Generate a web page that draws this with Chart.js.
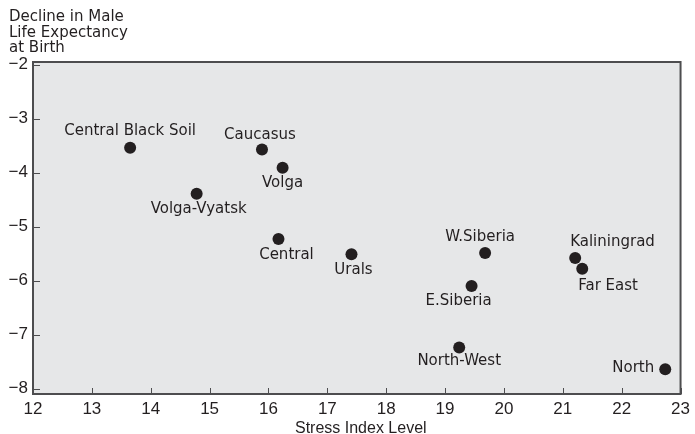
<!DOCTYPE html>
<html>
<head>
<meta charset="utf-8">
<script src="https://cdn.jsdelivr.net/npm/chart.js@4.4.1/dist/chart.umd.min.js"></script>
<style>
  html, body { margin: 0; padding: 0; background: #ffffff; }
  #wrap { width: 695px; height: 434px; position: relative; }
</style>
</head>
<body>
<div id="wrap"><canvas id="c" width="695" height="434"></canvas></div>
<script>
// ---- Data ----
const regions = ['Central Black Soil', 'Caucasus', 'Volga', 'Volga-Vyatsk', 'Central', 'Urals',
                 'W.Siberia', 'E.Siberia', 'Kaliningrad', 'Far East', 'North-West', 'North'];
const stressIndex = [13.65, 15.89, 16.24, 14.78, 16.17, 17.41, 19.68, 19.45, 21.21, 21.33, 19.24, 22.74];
const lifeExpDecline = [-3.54, -3.57, -3.91, -4.39, -5.23, -5.51, -5.49, -6.10, -5.58, -5.78, -7.24, -7.64];
const xTicks = [12, 13, 14, 15, 16, 17, 18, 19, 20, 21, 22, 23];
const yTicks = [-8, -7, -6, -5, -4, -3, -2];
const yTitleLines = ['Decline in Male', 'Life Expectancy', 'at Birth'];
const xTitle = 'Stress Index Level';

// ---- Label placement (style) ----
const labelPlace = {
  'Central Black Soil': { dx: 0, dy: -17, align: 'center' },
  'Caucasus':           { dx: -2, dy: -14, align: 'center' },
  'Volga':              { dx: 0, dy: 15, align: 'center' },
  'Volga-Vyatsk':       { dx: 2, dy: 15, align: 'center' },
  'Central':            { dx: 8, dy: 16, align: 'center' },
  'Urals':              { dx: 2, dy: 16, align: 'center' },
  'W.Siberia':          { dx: -5, dy: -16, align: 'center' },
  'E.Siberia':          { dx: -13, dy: 15, align: 'center' },
  'Kaliningrad':        { dx: -5, dy: -16, align: 'left' },
  'Far East':           { dx: -4, dy: 17, align: 'left' },
  'North-West':         { dx: 0, dy: 14, align: 'center' },
  'North':              { dx: -11, dy: -1, align: 'right' }
};

const INK = '#231f20';
const AXIS = '#4d4d4f';

const decorPlugin = {
  id: 'decor',
  beforeDraw(chart) {
    const { ctx, chartArea: a } = chart;
    ctx.save();
    ctx.fillStyle = '#e6e7e8';
    ctx.fillRect(a.left, a.top, a.right - a.left, a.bottom - a.top);
    ctx.restore();
  },
  afterDatasetsDraw(chart) {
    const { ctx, chartArea: a, scales } = chart;
    ctx.save();
    // frame
    ctx.strokeStyle = AXIS;
    ctx.lineWidth = 2;
    ctx.strokeRect(a.left, a.top, a.right - a.left, a.bottom - a.top);
    // inward ticks
    ctx.lineWidth = 1;
    xTicks.forEach(v => {
      const x = Math.round(scales.x.getPixelForValue(v)) + 0.5;
      ctx.beginPath(); ctx.moveTo(x, a.bottom); ctx.lineTo(x, a.bottom - 6); ctx.stroke();
    });
    yTicks.forEach(v => {
      const y = Math.round(scales.y.getPixelForValue(v)) + 0.5;
      ctx.beginPath(); ctx.moveTo(a.left, y); ctx.lineTo(a.left + 7, y); ctx.stroke();
    });
    // point labels
    ctx.fillStyle = INK;
    ctx.font = '15px "DejaVu Sans"';
    ctx.textBaseline = 'middle';
    const meta = chart.getDatasetMeta(0);
    meta.data.forEach((pt, i) => {
      const p = labelPlace[regions[i]];
      ctx.textAlign = p.align;
      ctx.fillText(regions[i], pt.x + p.dx, pt.y + p.dy);
    });
    // y title (top-left)
    ctx.textAlign = 'left';
    ctx.textBaseline = 'alphabetic';
    yTitleLines.forEach((t, i) => ctx.fillText(t, 9, 21 + i * 15.5));
    // x title
    ctx.font = '16px "Liberation Sans Narrow", "Liberation Sans", Arial, sans-serif';
    ctx.textAlign = 'center';
    ctx.fillText(xTitle, (a.left + a.right) / 2 + 4, 433);
    ctx.restore();
  }
};

new Chart(document.getElementById('c'), {
  type: 'scatter',
  data: {
    datasets: [{
      data: stressIndex.map((x, i) => ({ x, y: lifeExpDecline[i] })),
      backgroundColor: INK,
      borderWidth: 0,
      pointRadius: 6,
      pointHoverRadius: 6
    }]
  },
  options: {
    responsive: false,
    animation: false,
    events: [],
    layout: { padding: { top: 62, right: 13, left: 0, bottom: 0 } },
    plugins: { legend: { display: false }, tooltip: { enabled: false }, title: { display: false } },
    scales: {
      x: {
        type: 'linear', min: 12, max: 23,
        afterFit: s => { s.height = 40; },
        afterBuildTicks: s => { s.ticks = xTicks.map(v => ({ value: v })); },
        grid: { display: false, drawTicks: false, tickLength: 0 },
        border: { display: false },
        ticks: {
          padding: 5,
          color: INK,
          font: { family: '"Liberation Sans Narrow", "Liberation Sans", Arial', size: 17 },
          maxRotation: 0, autoSkip: false
        }
      },
      y: {
        type: 'linear', min: -8.1, max: -1.95,
        afterFit: s => { s.width = 33; },
        afterBuildTicks: s => { s.ticks = yTicks.map(v => ({ value: v })); },
        grid: { display: false, drawTicks: false, tickLength: 0 },
        border: { display: false },
        ticks: {
          padding: 5,
          color: INK,
          font: { family: '"Liberation Sans Narrow", "Liberation Sans", Arial', size: 17 },
          callback: v => '\u2212' + Math.abs(v)
        }
      }
    }
  },
  plugins: [decorPlugin]
});
</script>
</body>
</html>
